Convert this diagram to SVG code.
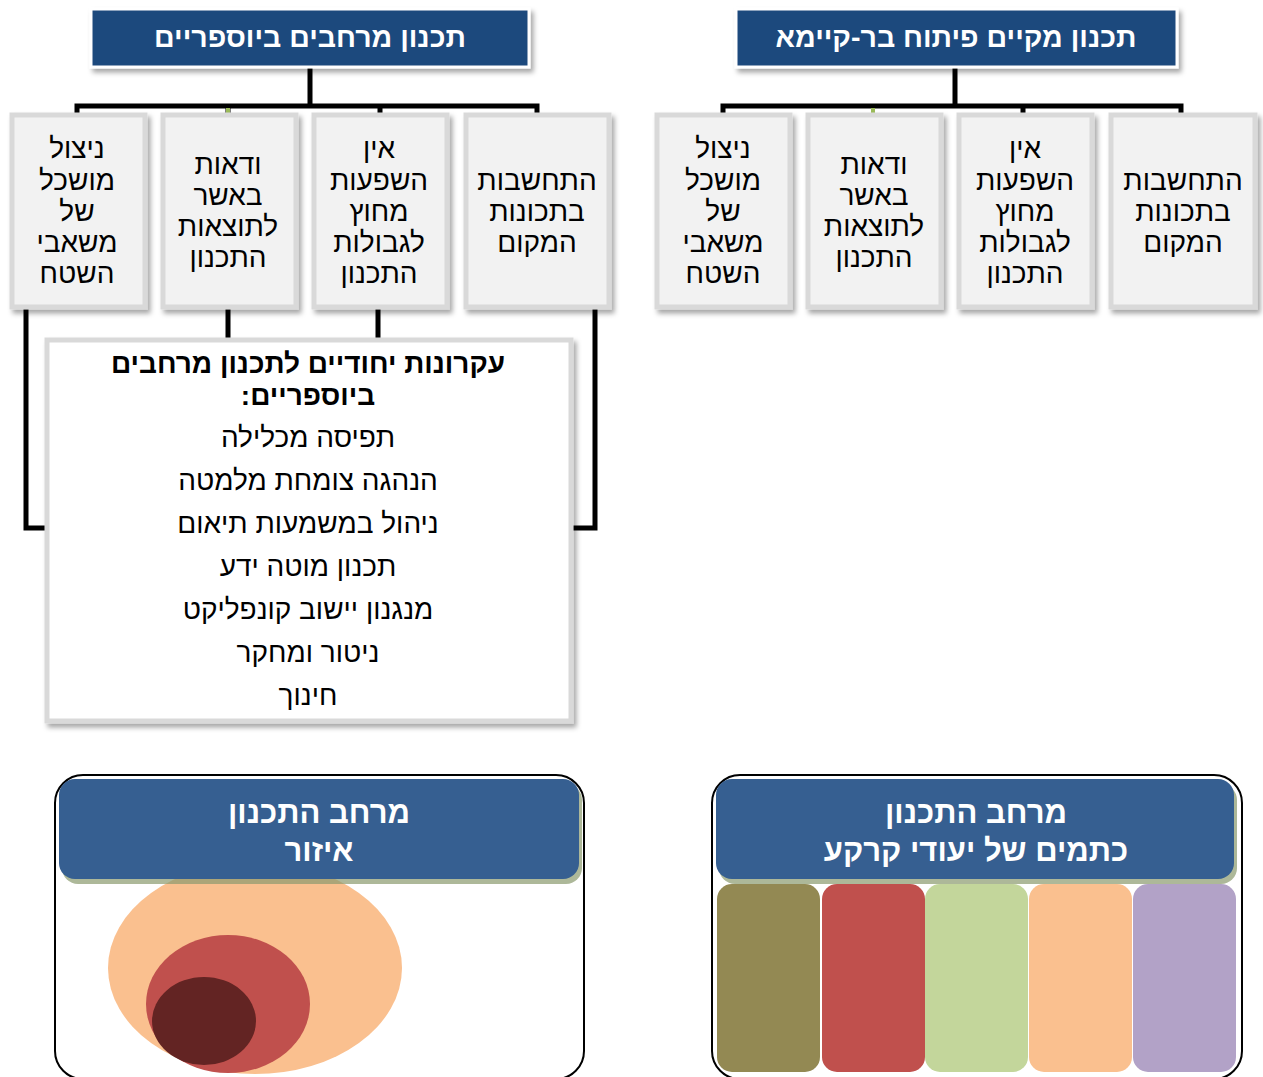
<svg xmlns="http://www.w3.org/2000/svg" width="1263" height="1077" viewBox="0 0 1263 1077">
<defs>
<filter id="sh" x="-10%" y="-10%" width="130%" height="130%"><feDropShadow dx="3" dy="4" stdDeviation="2.5" flood-color="#000" flood-opacity="0.35"/></filter>
<style>
text{font-family:"Liberation Sans","DejaVu Sans",sans-serif;text-anchor:middle;direction:rtl;dominant-baseline:central}
.title{fill:#1f497d;stroke:#fff;stroke-width:3}
.tt{fill:#fff;font-weight:bold;font-size:28.5px}
.child{fill:#f2f2f2;stroke:#d9d9d9;stroke-width:5}
.ct{fill:#000;font-size:28px}
.con{fill:none;stroke:#000;stroke-width:5;stroke-linejoin:miter}
.panel{fill:#fff;stroke:#000;stroke-width:2}
.hdr{fill:#365f91}
.hsh{fill:#8a9a6e;opacity:0.7}
.ht{fill:#fff;font-weight:bold;font-size:31px}
</style>
</defs>

<g id="connectors">
<path class="con" d="M310 67V106M77 113V106H537V113M228 106V113M380 106V113"/>
<path class="con" d="M955 67V106M723 113V106H1181V113M1023 106V113"/>
<path d="M228 108V113M873 108V113" stroke="#9bbb59" stroke-width="4"/>
<path class="con" d="M26 308V528H46M228 308V340M378 308V340M595 308V528H572"/>
</g>

<g id="title-left"><rect class="title" x="91" y="9" width="438" height="58" filter="url(#sh)"/><text class="tt" x="310" y="37">תכנון מרחבים ביוספריים</text></g>
<g id="title-right"><rect class="title" x="736" y="9" width="441" height="58" filter="url(#sh)"/><text class="tt" x="956" y="37">תכנון מקיים פיתוח בר-קיימא</text></g>

<g id="l1"><rect class="child" x="12" y="115" width="133" height="192" filter="url(#sh)"/><text class="ct" x="77"><tspan x="77" y="148">ניצול</tspan><tspan x="77" y="180">מושכל</tspan><tspan x="77" y="211">של</tspan><tspan x="77" y="242">משאבי</tspan><tspan x="77" y="273">השטח</tspan></text></g>
<g id="l2"><rect class="child" x="163" y="115" width="133" height="192" filter="url(#sh)"/><text class="ct" x="228"><tspan x="228" y="164">ודאות</tspan><tspan x="228" y="195">באשר</tspan><tspan x="228" y="226">לתוצאות</tspan><tspan x="228" y="257">התכנון</tspan></text></g>
<g id="l3"><rect class="child" x="314" y="115" width="133" height="192" filter="url(#sh)"/><text class="ct" x="379"><tspan x="379" y="148">אין</tspan><tspan x="379" y="180">השפעות</tspan><tspan x="379" y="211">מחוץ</tspan><tspan x="379" y="242">לגבולות</tspan><tspan x="379" y="273">התכנון</tspan></text></g>
<g id="l4"><rect class="child" x="466" y="115" width="143" height="192" filter="url(#sh)"/><text class="ct" x="537"><tspan x="537" y="180">התחשבות</tspan><tspan x="537" y="211">בתכונות</tspan><tspan x="537" y="242">המקום</tspan></text></g>

<g id="r1"><rect class="child" x="657" y="115" width="133" height="192" filter="url(#sh)"/><text class="ct" x="723"><tspan x="723" y="148">ניצול</tspan><tspan x="723" y="180">מושכל</tspan><tspan x="723" y="211">של</tspan><tspan x="723" y="242">משאבי</tspan><tspan x="723" y="273">השטח</tspan></text></g>
<g id="r2"><rect class="child" x="808" y="115" width="133" height="192" filter="url(#sh)"/><text class="ct" x="874"><tspan x="874" y="164">ודאות</tspan><tspan x="874" y="195">באשר</tspan><tspan x="874" y="226">לתוצאות</tspan><tspan x="874" y="257">התכנון</tspan></text></g>
<g id="r3"><rect class="child" x="959" y="115" width="133" height="192" filter="url(#sh)"/><text class="ct" x="1025"><tspan x="1025" y="148">אין</tspan><tspan x="1025" y="180">השפעות</tspan><tspan x="1025" y="211">מחוץ</tspan><tspan x="1025" y="242">לגבולות</tspan><tspan x="1025" y="273">התכנון</tspan></text></g>
<g id="r4"><rect class="child" x="1111" y="115" width="144" height="192" filter="url(#sh)"/><text class="ct" x="1183"><tspan x="1183" y="180">התחשבות</tspan><tspan x="1183" y="211">בתכונות</tspan><tspan x="1183" y="242">המקום</tspan></text></g>

<g id="principles"><rect x="47" y="340" width="524" height="381" fill="#fff" stroke="#d9d9d9" stroke-width="5" filter="url(#sh)"/>
<text class="ct" x="308" font-weight="bold" font-size="29px"><tspan x="308" y="363">עקרונות יחודיים לתכנון מרחבים</tspan><tspan x="308" y="395">ביוספריים:</tspan></text>
<text class="ct" x="308"><tspan x="308" y="437">תפיסה מכלילה</tspan><tspan x="308" y="480">הנהגה צומחת מלמטה</tspan><tspan x="308" y="523">ניהול במשמעות תיאום</tspan><tspan x="308" y="566">תכנון מוטה ידע</tspan><tspan x="308" y="609">מנגנון יישוב קונפליקט</tspan><tspan x="308" y="652">ניטור ומחקר</tspan><tspan x="308" y="695">חינוך</tspan></text>
</g>

<g id="panel-left">
<rect class="panel" x="55" y="775" width="529" height="304" rx="28"/>
<ellipse cx="255" cy="968" rx="147" ry="106" fill="#fac08f"/>
<ellipse cx="228" cy="1004" rx="82" ry="69" fill="#c0504d"/>
<ellipse cx="204" cy="1021" rx="52" ry="44" fill="#632423"/>
<rect class="hsh" x="62" y="784" width="520" height="100" rx="16"/>
<rect class="hdr" x="59" y="779" width="520" height="100" rx="16"/>
<text class="ht" x="319"><tspan x="319" y="812">מרחב התכנון</tspan><tspan x="319" y="850">איזור</tspan></text>
</g>

<g id="panel-right">
<rect class="panel" x="712" y="775" width="530" height="304" rx="28"/>
<rect class="hsh" x="719" y="784" width="518" height="100" rx="16"/>
<rect class="hdr" x="716" y="779" width="518" height="100" rx="16"/>
<text class="ht" x="976"><tspan x="976" y="812">מרחב התכנון</tspan><tspan x="976" y="850">כתמים של יעודי קרקע</tspan></text>
<rect x="717" y="884" width="103" height="188" rx="15" fill="#938953"/>
<rect x="822" y="884" width="103" height="188" rx="15" fill="#c0504d"/>
<rect x="925" y="884" width="103" height="188" rx="15" fill="#c3d69b"/>
<rect x="1029" y="884" width="103" height="188" rx="15" fill="#fac08f"/>
<rect x="1133" y="884" width="103" height="188" rx="15" fill="#b2a2c7"/>
</g>
</svg>
